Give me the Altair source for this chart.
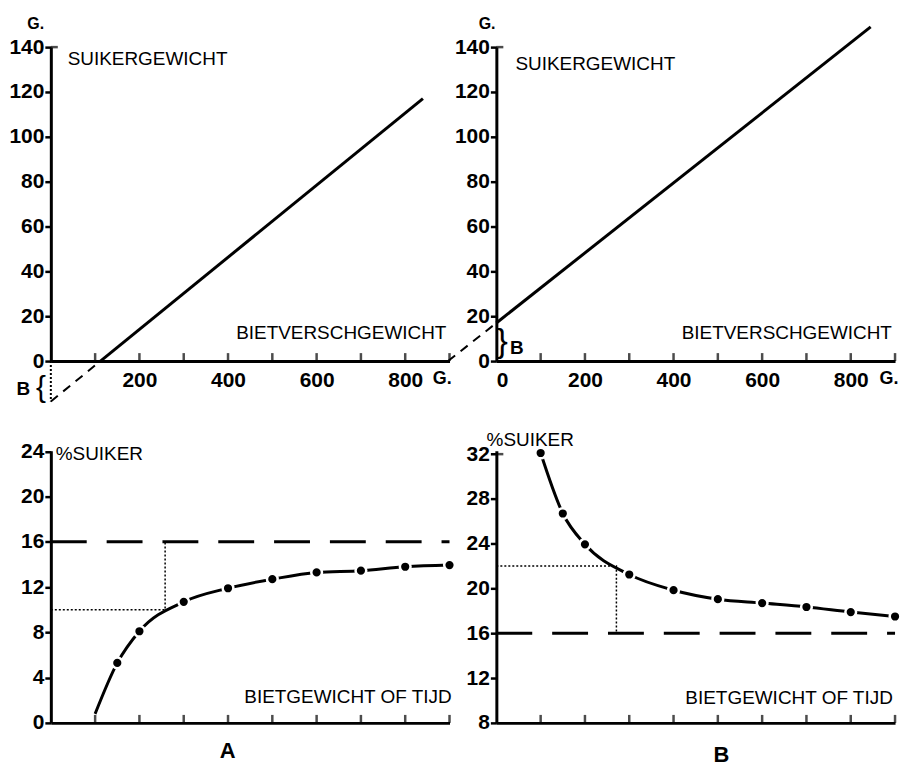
import altair as alt
import pandas as pd

FONT = "Liberation Sans"

# ---------- data ----------
# Top-left (A): sugar weight (g) against fresh beet weight (g)
a_line_x = [112, 840]
a_line_y = [0, 117]
a_ext_x = [0, 112]
a_ext_y = [-18, 0]

# Top-right (B)
b_line_x = [0, 845]
b_line_y = [17, 149]
b_ext_x = [-109, 0]
b_ext_y = [0, 17]

top_x_ticks = [100, 200, 300, 400, 500, 600, 700, 800, 900]
a_top_x_labels = [200, 400, 600, 800]
b_top_x_labels = [0, 200, 400, 600, 800]
top_y_ticks = [0, 20, 40, 60, 80, 100, 120, 140]

# Bottom-left (A): % sugar against beet weight or time
a_pct_x = [1.0, 1.5, 2, 3, 4, 5, 6, 7, 8, 9]
a_pct_y = [0.8, 5.3, 8.1, 10.7, 11.9, 12.7, 13.3, 13.45, 13.8, 13.95]
a_dot_x = a_pct_x[1:]
a_dot_y = a_pct_y[1:]
a_guide_x = [0, 2.58, 2.58]
a_guide_y = [10, 10, 16]
a_y_ticks = [0, 4, 8, 12, 16, 20, 24]

# Bottom-right (B)
b_pct_x = [1, 1.5, 2, 3, 4, 5, 6, 7, 8, 9]
b_pct_y = [32.1, 26.7, 23.95, 21.25, 19.85, 19.05, 18.7, 18.35, 17.9, 17.5]
b_guide_x = [0, 2.71, 2.71]
b_guide_y = [22, 22, 16]
b_y_ticks = [8, 12, 16, 20, 24, 28, 32]

ref_level = 16
bottom_x_ticks = [1, 2, 3, 4, 5, 6, 7, 8, 9]


def df(xs, ys):
    return pd.DataFrame({"x": xs, "y": ys, "i": list(range(len(xs)))})


def text(s, x, y, align="left", size=19, weight="normal"):
    return alt.Chart().mark_text(
        text=s, align=align, baseline="middle", font=FONT, fontSize=size,
        fontWeight=weight, color="black"
    ).encode(x=alt.datum(x), y=alt.datum(y))


def xticks(vals, y0):
    return alt.Chart(pd.DataFrame({"x": vals})).mark_tick(
        orient="vertical", size=8, thickness=2.5, yOffset=-4, color="black"
    ).encode(x="x:Q", y=alt.datum(y0))


def top_hook(y_top):
    # small hook to the right at the top end of the vertical axis
    return alt.Chart(pd.DataFrame({"y": [y_top]})).mark_tick(
        orient="horizontal", size=7, thickness=2.5, xOffset=3.5, color="black"
    ).encode(y="y:Q", x=alt.datum(0))


def top_panel(line_x, line_y, ext_x, ext_y, x_labels, which):
    X = alt.X("x:Q", scale=alt.Scale(domain=[0, 900], nice=False, zero=False),
              axis=alt.Axis(values=x_labels, ticks=False, labelPadding=9,
                            domainWidth=3, title=None, format="d"))
    Y = alt.Y("y:Q", scale=alt.Scale(domain=[0, 140], nice=False, zero=False),
              axis=alt.Axis(values=top_y_ticks, tickSize=6, tickWidth=2.5,
                            labelPadding=1, domainWidth=3, title=None, format="d"))
    line = alt.Chart(df(line_x, line_y)).mark_line(
        color="black", strokeWidth=3, clip=False).encode(x=X, y=Y)
    ext = alt.Chart(df(ext_x, ext_y)).mark_line(
        color="black", strokeWidth=2, strokeDash=[9, 7], clip=False).encode(x=X, y=Y)
    layers = [line, ext, xticks(top_x_ticks, 0), top_hook(140),
              text("SUIKERGEWICHT", 38 if which == "A" else 43, 134.5 if which == "A" else 132.5),
              text("BIETVERSCHGEWICHT", 893, 12.4, align="right"),
              text("G.", -34 if which == "A" else -21, 150.5, align="center", size=16, weight="bold"),
              text("G.", 862 if which == "A" else 865, -8, size=18, weight="bold")]
    if which == "A":
        dotted = alt.Chart(df([0, 0], [0, -18])).mark_line(
            color="black", strokeWidth=2, strokeDash=[2, 2], clip=False).encode(x=X, y=Y)
        layers += [dotted,
                   text("{", -22, -12, align="center", size=30),
                   text("B", -62, -12.5, align="center", size=19, weight="bold")]
    else:
        layers += [text("}", 13, 8.4, align="center", size=34),
                   text("B", 46, 5.8, align="center", size=19, weight="bold")]
    return alt.layer(*layers).properties(width=400, height=315)


def bottom_panel(px, py, dx, dy, gx, gy, y_dom, y_ticks, width, which):
    X = alt.X("x:Q", scale=alt.Scale(domain=[0, 9], nice=False, zero=False),
              axis=alt.Axis(labels=False, ticks=False, domainWidth=3, title=None))
    Y = alt.Y("y:Q", scale=alt.Scale(domain=y_dom, nice=False, zero=False),
              axis=alt.Axis(values=y_ticks, tickSize=6, tickWidth=2.5,
                            labelPadding=1, domainWidth=3, title=None, format="d"))
    curve = alt.Chart(df(px, py)).mark_line(
        color="black", strokeWidth=3, interpolate="monotone", clip=False
    ).encode(x=X, y=Y, order="i:Q")
    dots = alt.Chart(df(dx, dy)).mark_circle(
        size=115, fill="black", stroke="white", strokeWidth=2.5, opacity=1, clip=False
    ).encode(x=X, y=Y)
    ref = alt.Chart(pd.DataFrame({"x": [0], "x2": [9], "y": [ref_level]})).mark_rule(
        color="black", strokeWidth=3, strokeDash=[36, 20]
    ).encode(x=X, x2="x2:Q", y=Y)
    guide = alt.Chart(df(gx, gy)).mark_line(
        color="black", strokeWidth=1.5, strokeDash=[2, 2]
    ).encode(x=X, y=Y, order="i:Q")
    y0 = y_dom[0]
    layers = [ref, guide, curve, dots, xticks(bottom_x_ticks, y0)]
    if which == "A":
        layers += [text("%SUIKER", 0.11, 23.8),
                   text("BIETGEWICHT OF TIJD", 9.05, 2.3, align="right"),
                   text("A", 3.99, -2.5, align="center", size=22, weight="bold")]
    else:
        layers += [top_hook(32),
                   text("%SUIKER", -0.22, 33.3),
                   text("BIETGEWICHT OF TIJD", 8.95, 10.2, align="right"),
                   text("B", 5.08, 5.15, align="center", size=22, weight="bold")]
    return alt.layer(*layers).properties(width=width, height=273)


tl = top_panel(a_line_x, a_line_y, a_ext_x, a_ext_y, a_top_x_labels, "A")
tr = top_panel(b_line_x, b_line_y, b_ext_x, b_ext_y, b_top_x_labels, "B")
bl = bottom_panel(a_pct_x, a_pct_y, a_dot_x, a_dot_y, a_guide_x, a_guide_y,
                  [0, 24.05], a_y_ticks, 400, "A")
br = bottom_panel(b_pct_x, b_pct_y, b_pct_x, b_pct_y, b_guide_x, b_guide_y,
                  [8, 32.3], b_y_ticks, 400, "B")

chart = alt.concat(
    tl, tr, bl, br, columns=2, bounds="flush", align="each",
    spacing={"row": 90, "column": 47},
).properties(
    padding={"left": 8, "top": 14, "right": 0, "bottom": 2},
    background="white",
).configure_view(stroke=None).configure_axis(
    grid=False, domainColor="black", tickColor="black", labelColor="black",
    labelFont=FONT, labelFontSize=21, labelFontWeight="bold",
)

chart.save("out.html", embed_options={"renderer": "svg", "actions": False})
